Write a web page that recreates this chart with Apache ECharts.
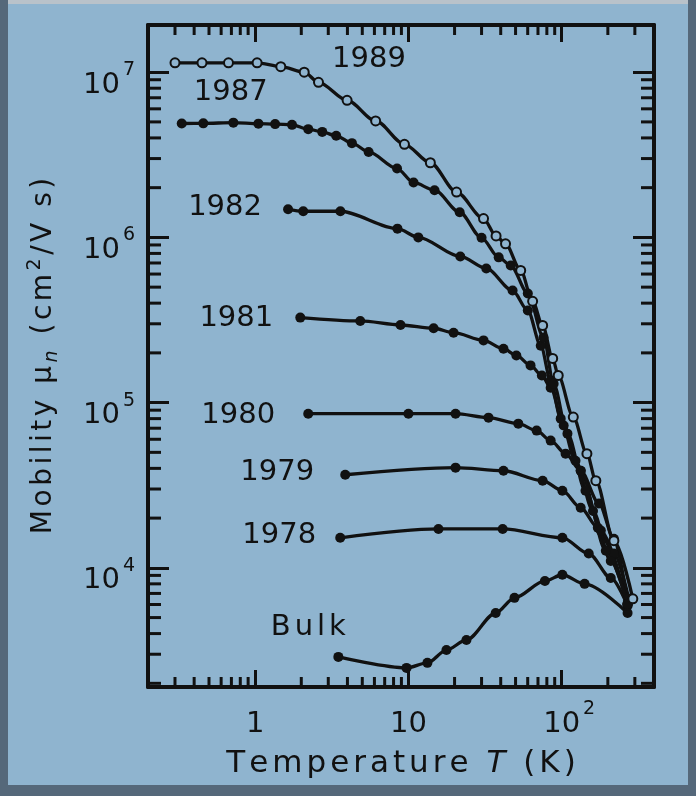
<!DOCTYPE html>
<html><head><meta charset="utf-8">
<script src="https://cdn.jsdelivr.net/npm/echarts@6/dist/echarts.min.js"></script>
<style>html,body{margin:0;padding:0;background:#c4cbd1;}#c{width:696px;height:796px;}</style>
</head><body><div id="c"></div>
<script>
// ---------------- data ----------------
const T1989  = [0.30, 0.45, 0.67, 1.03, 1.47, 2.09, 2.59, 3.98, 6.11, 9.42, 13.9, 20.6, 30.9, 37.3, 43.0, 54.0, 64.6, 75.1, 87.3, 94.9, 119, 146, 167, 219, 291];
const MU1989 = [1.14e7, 1.14e7, 1.14e7, 1.14e7, 1.08e7, 1.00e7, 8.68e6, 6.76e6, 5.07e6, 3.66e6, 2.83e6, 1.88e6, 1.30e6, 1.02e6, 9.14e5, 6.31e5, 4.1e5, 2.93e5, 1.85e5, 1.46e5, 8.17e4, 4.91e4, 3.37e4, 1.46e4, 6.49e3];

const T1987  = [0.332, 0.459, 0.721, 1.05, 1.35, 1.74, 2.22, 2.74, 3.38, 4.28, 5.50, 8.43, 10.8, 14.8, 21.6, 30.0, 38.8, 46.5, 60.1, 76.1, 88.6, 109, 143, 194, 269];
const MU1987 = [4.89e6, 4.9e6, 4.95e6, 4.88e6, 4.85e6, 4.8e6, 4.52e6, 4.35e6, 4.12e6, 3.72e6, 3.29e6, 2.61e6, 2.15e6, 1.93e6, 1.42e6, 9.94e5, 7.57e5, 6.76e5, 4.58e5, 2.48e5, 1.30e5, 6.49e4, 2.93e4, 1.27e4, 6.05e3];

const T1982  = [1.64, 2.06, 3.60, 8.48, 11.6, 21.8, 32.2, 47.8, 60.1, 73.0, 84.7, 98.5, 123, 160, 209, 269];
const MU1982 = [1.48e6, 1.44e6, 1.44e6, 1.13e6, 1.0e6, 7.67e5, 6.49e5, 4.77e5, 3.61e5, 2.21e5, 1.36e5, 8.0e4, 4.45e4, 2.21e4, 1.10e4, 6.05e3];

const T1981  = [1.97, 4.85, 8.88, 14.6, 19.7, 30.9, 41.7, 50.6, 62.6, 74.2, 84.7, 103, 133, 180, 269];
const MU1981 = [3.27e5, 3.12e5, 2.95e5, 2.82e5, 2.65e5, 2.38e5, 2.12e5, 1.93e5, 1.68e5, 1.46e5, 1.23e5, 7.27e4, 3.87e4, 1.68e4, 6.05e3];

const T1980  = [2.22, 10, 20.3, 33.3, 52.1, 68.6, 84.7, 106, 133, 175, 219, 269];
const MU1980 = [8.57e4, 8.57e4, 8.57e4, 8.11e4, 7.46e4, 6.77e4, 5.89e4, 4.91e4, 3.87e4, 2.45e4, 1.5e4, 6.05e3];

const T1979  = [3.87, 20.3, 41.7, 75.1, 101, 133, 172, 219, 274];
const MU1979 = [3.66e4, 4.04e4, 3.87e4, 3.37e4, 2.93e4, 2.31e4, 1.75e4, 1.22e4, 6.49e3];

const T1978  = [3.59, 15.7, 41.2, 101, 150, 209, 269];
const MU1978 = [1.52e4, 1.72e4, 1.72e4, 1.52e4, 1.22e4, 8.69e3, 5.89e3];

const TBULK  = [3.49, 9.72, 13.3, 17.7, 23.9, 37.1, 49.2, 77.7, 101, 141, 269];
const MUBULK = [2.89e3, 2.48e3, 2.66e3, 3.18e3, 3.66e3, 5.33e3, 6.58e3, 8.33e3, 9.08e3, 8.0e3, 5.33e3];

const curveNames = ['1989', '1987', '1982', '1981', '1980', '1979', '1978', 'Bulk'];

// axis ranges and tick labels
const X_MIN = 0.2, X_MAX = 400;
const Y_MIN = 1900, Y_MAX = 1.93e7;
const xTickValues = [1, 10, 100];
const xTickLabels = [['1', ''], ['10', ''], ['10', '2']];
const yTickValues = [1e4, 1e5, 1e6, 1e7];
const yTickLabels = [['10', '4'], ['10', '5'], ['10', '6'], ['10', '7']];
const xTitle = [['Temperature ', 'n'], ['T', 'i'], [' (K)', 'n']];
const yTitle = [['Mobility ', 'n'], ['\u03bc', 'n'], ['n', 'u'], [' (cm', 'n'], ['2', 's'], ['/V s)', 'n']];

// ---------------- styling ----------------
const FONT = 'DejaVu Sans';
const INK = '#111111';
const BG = '#8fb4cf';

function spaced(segs) {
  return segs.map(([txt, st]) => txt.split('').map(c => '{' + st + '|' + c + '}').join('')).join('');
}
function findLabel(values, labels, v) {
  for (let i = 0; i < values.length; i++) {
    if (Math.abs(Math.log10(v) - Math.log10(values[i])) < 1e-6) return labels[i];
  }
  return null;
}

const labelOffsets = {
  '1989': [194, -3], '1987': [49, -31], '1982': [-63, -2], '1981': [-64, 1],
  '1980': [-70, 2], '1979': [-68, -2], '1978': [-61, -2], 'Bulk': [-30, -29]
};

function mkSeries(name, T, M, open) {
  const data = T.map((t, i) => {
    if (i === 0) {
      return {
        value: [t, M[i]],
        label: {
          show: true, position: 'inside', offset: labelOffsets[name],
          formatter: name === 'Bulk' ? spaced([[name, 'w']]) : name,
          fontFamily: FONT, fontSize: 29, color: INK,
          rich: { w: { fontFamily: FONT, fontSize: 29, color: INK, padding: [0, 2] } }
        }
      };
    }
    return [t, M[i]];
  });
  return {
    type: 'line', name: name, data: data,
    smooth: 0.3, smoothMonotone: 'x',
    symbol: 'circle', symbolSize: open ? 9 : 10, showAllSymbol: true,
    lineStyle: { color: INK, width: 3.3 },
    itemStyle: open ? { color: BG, borderColor: INK, borderWidth: 2 } : { color: INK, borderWidth: 0 },
    label: { show: false },
    z: open ? 5 : 3,
    emphasis: { disabled: true },
    silent: true
  };
}

// minor tick positions
const xMinor = [], yMinor = [];
[0.1, 1, 10, 100].forEach(d => { for (let k = 2; k <= 9; k++) { const v = k * d; if (v > X_MIN * 1.0001 && v < X_MAX * 0.9999) xMinor.push(+v.toPrecision(6)); } });
[1e3, 1e4, 1e5, 1e6, 1e7].forEach(d => { for (let k = 2; k <= 9; k++) { const v = k * d; if (v > Y_MIN && v < Y_MAX) yMinor.push(v); } });
const minorData = xMinor.map(v => [v, Y_MIN, 0]).concat(yMinor.map(v => [X_MIN, v, 1]));

const chart = echarts.init(document.getElementById('c'), null, { renderer: 'canvas' });

const baseAxis = {
  type: 'log', logBase: 10,
  axisLine: { show: true, onZero: false, lineStyle: { color: INK, width: 4 } },
  splitLine: { show: false }, minorTick: { show: false }, minorSplitLine: { show: false }
};

const option = {
  animation: false,
  backgroundColor: BG,
  textStyle: { fontFamily: FONT },
  grid: { left: 148, right: 42, top: 25, bottom: 109, containLabel: false, outerBoundsMode: 'none' },
  xAxis: [
    Object.assign({}, baseAxis, {
      position: 'bottom', min: X_MIN, max: X_MAX,
      axisTick: { show: true, inside: true, length: 17, lineStyle: { color: INK, width: 3 } },
      axisLabel: {
        show: true, margin: 13, color: INK, fontFamily: FONT, fontSize: 29,
        showMinLabel: false, showMaxLabel: false,
        formatter: function (v) {
          const l = findLabel(xTickValues, xTickLabels, v);
          if (!l) return '';
          return l[1] ? '{p|' + l[0] + '}{s|' + l[1] + '}' : '{b|' + l[0] + '}';
        },
        rich: {
          b: { fontFamily: FONT, fontSize: 29, color: INK, padding: [10, 0, 0, 0] },
          p: { fontFamily: FONT, fontSize: 29, color: INK, padding: [10, 0, 0, 15] },
          s: { fontFamily: FONT, fontSize: 19, color: INK, verticalAlign: 'top', padding: [0, 0, 0, 3] }
        }
      },
      name: spaced(xTitle), nameLocation: 'middle', nameGap: 61,
      nameTextStyle: {
        color: INK, fontFamily: FONT, fontSize: 31,
        rich: {
          n: { fontFamily: FONT, fontSize: 31, color: INK, padding: [0, 2] },
          i: { fontFamily: FONT, fontSize: 31, color: INK, fontStyle: 'italic', padding: [0, 2] }
        }
      }
    }),
    Object.assign({}, baseAxis, {
      position: 'top', min: X_MIN, max: X_MAX,
      axisTick: { show: true, inside: true, length: 17, lineStyle: { color: INK, width: 3 } },
      axisLabel: { show: false }
    })
  ],
  yAxis: [
    Object.assign({}, baseAxis, {
      position: 'left', min: Y_MIN, max: Y_MAX,
      axisTick: { show: true, inside: true, length: 21, lineStyle: { color: INK, width: 3 } },
      axisLabel: {
        show: true, margin: 13, color: INK, fontFamily: FONT, fontSize: 29,
        showMinLabel: false, showMaxLabel: false, padding: [16, 0, 0, 0],
        formatter: function (v) {
          const l = findLabel(yTickValues, yTickLabels, v);
          if (!l) return '';
          return '{b|' + l[0] + '}{s|' + l[1] + '}';
        },
        rich: {
          b: { fontFamily: FONT, fontSize: 29, color: INK, padding: [10, 0, 0, 0] },
          s: { fontFamily: FONT, fontSize: 19, color: INK, verticalAlign: 'top', padding: [0, 0, 0, 3] }
        }
      },
      name: spaced(yTitle), nameLocation: 'middle', nameGap: 86, nameRotate: 90,
      nameTextStyle: {
        color: INK, fontFamily: FONT, fontSize: 28,
        rich: {
          n: { fontFamily: FONT, fontSize: 28, color: INK, lineHeight: 36, padding: [0, 1.75] },
          u: { fontFamily: FONT, fontSize: 19, color: INK, fontStyle: 'italic', verticalAlign: 'bottom', padding: [0, 1.75] },
          s: { fontFamily: FONT, fontSize: 19, color: INK, verticalAlign: 'top', padding: [0, 1.75] }
        }
      }
    }),
    Object.assign({}, baseAxis, {
      position: 'right', min: Y_MIN, max: Y_MAX,
      axisTick: { show: true, inside: true, length: 21, lineStyle: { color: INK, width: 3 } },
      axisLabel: { show: false }
    })
  ],
  graphic: [
    { type: 'rect', silent: true, z: 100, shape: { x: 0, y: 0, width: 696, height: 4 }, style: { fill: '#b9c2ca' } },
    { type: 'rect', silent: true, z: 100, shape: { x: 0, y: 0, width: 8, height: 796 }, style: { fill: '#55687a' } },
    { type: 'rect', silent: true, z: 100, shape: { x: 688, y: 0, width: 8, height: 796 }, style: { fill: '#55687a' } },
    { type: 'rect', silent: true, z: 100, shape: { x: 0, y: 785, width: 696, height: 11 }, style: { fill: '#55687a' } }
  ],
  series: [
    {
      type: 'custom', name: 'minorTicks', silent: true, xAxisIndex: 0, yAxisIndex: 0,
      data: minorData, z: 2,
      renderItem: function (params, api) {
        const kind = api.value(2);
        const st = { stroke: INK, lineWidth: 3 };
        if (kind === 0) {
          const v = api.value(0);
          const pb = api.coord([v, Y_MIN]);
          const pt = api.coord([v, Y_MAX]);
          return { type: 'group', children: [
            { type: 'line', shape: { x1: pb[0], y1: pb[1], x2: pb[0], y2: pb[1] - 10 }, style: st },
            { type: 'line', shape: { x1: pt[0], y1: pt[1], x2: pt[0], y2: pt[1] + 10 }, style: st }
          ] };
        } else {
          const v = api.value(1);
          const pl = api.coord([X_MIN, v]);
          const pr = api.coord([X_MAX, v]);
          return { type: 'group', children: [
            { type: 'line', shape: { x1: pl[0], y1: pl[1], x2: pl[0] + 13, y2: pl[1] }, style: st },
            { type: 'line', shape: { x1: pr[0], y1: pr[1], x2: pr[0] - 13, y2: pr[1] }, style: st }
          ] };
        }
      }
    },
    mkSeries('Bulk', TBULK, MUBULK, false),
    mkSeries('1978', T1978, MU1978, false),
    mkSeries('1979', T1979, MU1979, false),
    mkSeries('1980', T1980, MU1980, false),
    mkSeries('1981', T1981, MU1981, false),
    mkSeries('1982', T1982, MU1982, false),
    mkSeries('1987', T1987, MU1987, false),
    mkSeries('1989', T1989, MU1989, true)
  ]
};
chart.setOption(option);
</script>
</body></html>
